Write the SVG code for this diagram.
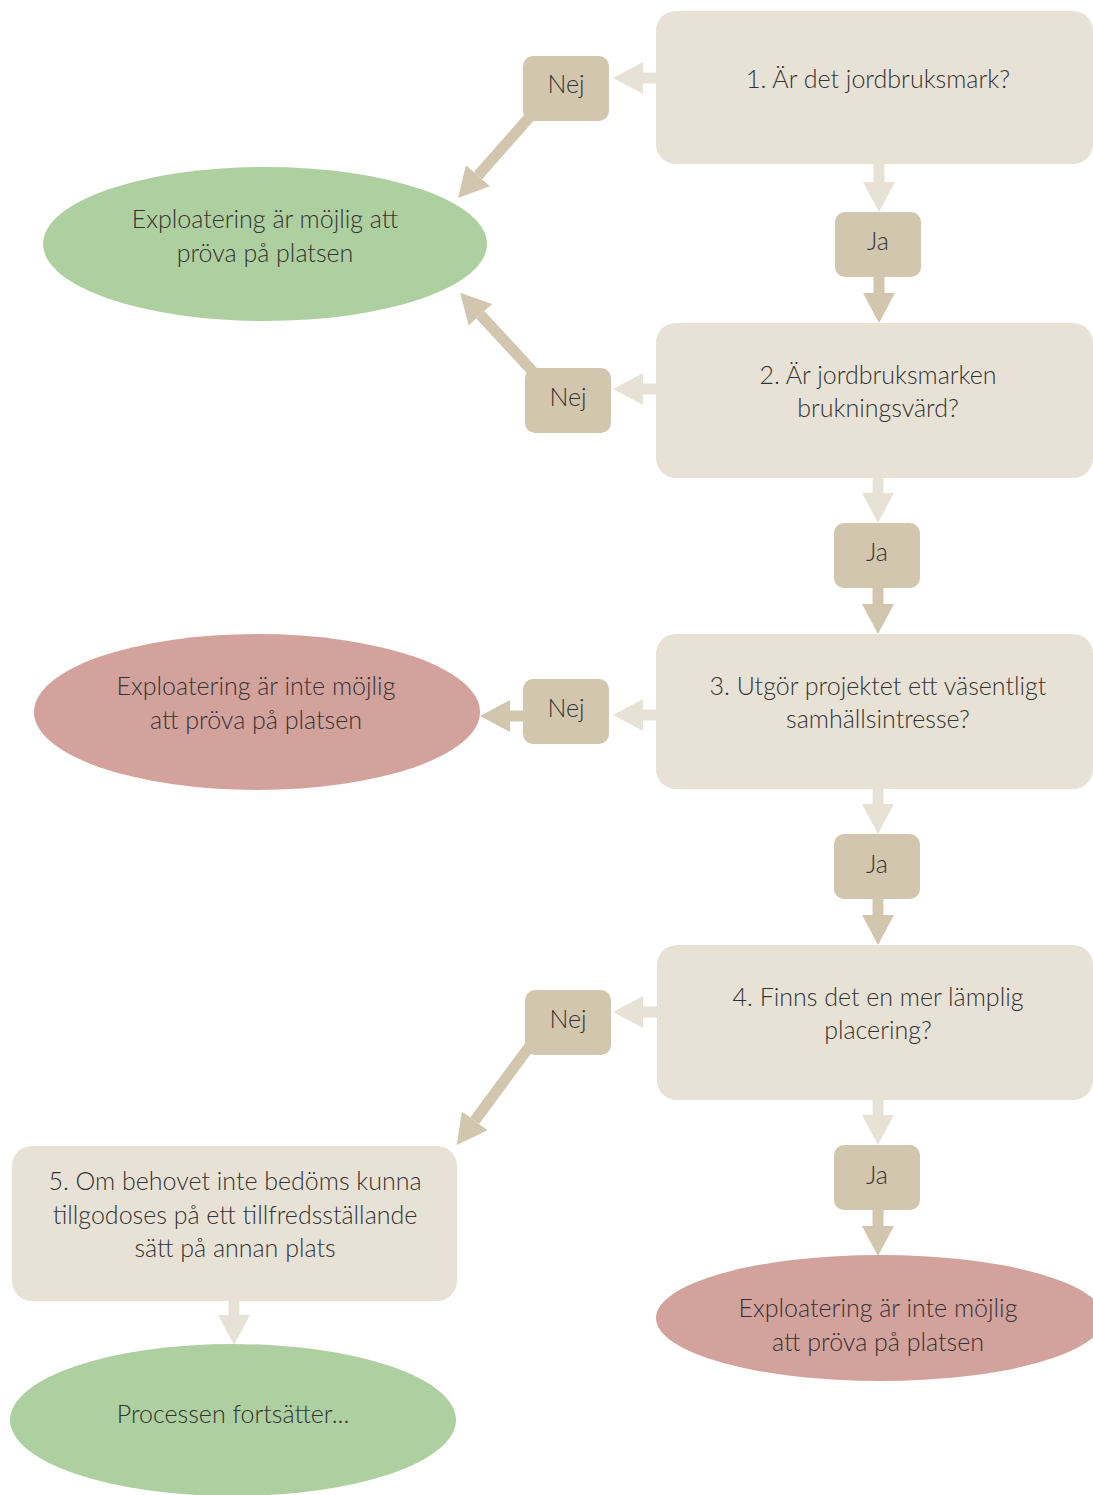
<svg xmlns="http://www.w3.org/2000/svg" width="1093" height="1495" viewBox="0 0 1093 1495">
<style>
.q{fill:#e8e2d6}
.a{fill:#d3c6ae}
.g{fill:#aecf9f}
.r{fill:#d4a29d}
text{font-family:Lato,"Open Sans","Liberation Sans",sans-serif;font-weight:300;font-size:25px;fill:#333333;text-anchor:middle}
.lc{stroke:#e8e2d6;stroke-width:11;fill:none}
.dc{stroke:#d3c6ae;stroke-width:11;fill:none}
</style>
<defs>
<marker id="hl" viewBox="0 -16 30 32" refX="0" refY="0" markerWidth="30" markerHeight="32" markerUnits="userSpaceOnUse" orient="auto"><path d="M0,-16 L30,0 L0,16 z" fill="#e8e2d6"/></marker>
<marker id="hd" viewBox="0 -16 30 32" refX="0" refY="0" markerWidth="30" markerHeight="32" markerUnits="userSpaceOnUse" orient="auto"><path d="M0,-16 L30,0 L0,16 z" fill="#d3c6ae"/></marker>
</defs>
<g id="connectors">
<line class="lc" x1="879" y1="160" x2="879" y2="182" marker-end="url(#hl)"/>
<line class="dc" x1="879" y1="275" x2="879" y2="293" marker-end="url(#hd)"/>
<line class="lc" x1="878" y1="474" x2="878" y2="493" marker-end="url(#hl)"/>
<line class="dc" x1="878" y1="586" x2="878" y2="604" marker-end="url(#hd)"/>
<line class="lc" x1="878" y1="785" x2="878" y2="804" marker-end="url(#hl)"/>
<line class="dc" x1="878" y1="897" x2="878" y2="915" marker-end="url(#hd)"/>
<line class="lc" x1="878" y1="1096" x2="878" y2="1115" marker-end="url(#hl)"/>
<line class="dc" x1="878" y1="1208" x2="878" y2="1226" marker-end="url(#hd)"/>
<line class="lc" x1="660" y1="78" x2="643" y2="78" marker-end="url(#hl)"/>
<line class="lc" x1="660" y1="389" x2="643" y2="389" marker-end="url(#hl)"/>
<line class="lc" x1="660" y1="715" x2="643" y2="715" marker-end="url(#hl)"/>
<line class="lc" x1="660" y1="1012" x2="643" y2="1012" marker-end="url(#hl)"/>
<line class="dc" x1="526" y1="716" x2="510" y2="716" marker-end="url(#hd)"/>
<line class="lc" x1="234" y1="1297" x2="234" y2="1315" marker-end="url(#hl)"/>
<line class="dc" x1="534" y1="112" x2="477.9" y2="175.6" marker-end="url(#hd)"/>
<line class="dc" x1="536" y1="375" x2="480.5" y2="314.9" marker-end="url(#hd)"/>
<line class="dc" x1="532" y1="1043" x2="474.7" y2="1120.8" marker-end="url(#hd)"/>
</g>
<g id="q1"><rect class="q" x="656" y="11" width="437" height="153" rx="20"/><text x="878" y="88">1. Är det jordbruksmark?</text></g>
<g id="q2"><rect class="q" x="656" y="323" width="437" height="155" rx="20"/><text x="878" y="384">2. Är jordbruksmarken</text><text x="878" y="417">brukningsvärd?</text></g>
<g id="q3"><rect class="q" x="656" y="634" width="437" height="155" rx="20"/><text x="878" y="695">3. Utgör projektet ett väsentligt</text><text x="878" y="728">samhällsintresse?</text></g>
<g id="q4"><rect class="q" x="657" y="945" width="436" height="155" rx="20"/><text x="878" y="1006">4. Finns det en mer lämplig</text><text x="878" y="1039">placering?</text></g>
<g id="q5"><rect class="q" x="12" y="1146" width="445" height="155" rx="20"/><text x="235" y="1190">5. Om behovet inte bedöms kunna</text><text x="235" y="1224">tillgodoses på ett tillfredsställande</text><text x="235" y="1257">sätt på annan plats</text></g>
<g id="ja1"><rect class="a" x="835" y="212" width="86" height="65" rx="10"/><text x="878" y="250">Ja</text></g>
<g id="ja2"><rect class="a" x="834" y="523" width="86" height="65" rx="10"/><text x="877" y="561">Ja</text></g>
<g id="ja3"><rect class="a" x="834" y="834" width="86" height="65" rx="10"/><text x="877" y="873">Ja</text></g>
<g id="ja4"><rect class="a" x="834" y="1145" width="86" height="65" rx="10"/><text x="877" y="1184">Ja</text></g>
<g id="nej1"><rect class="a" x="523" y="56" width="86" height="65" rx="10"/><text x="566" y="93">Nej</text></g>
<g id="nej2"><rect class="a" x="525" y="368" width="86" height="65" rx="10"/><text x="568" y="406">Nej</text></g>
<g id="nej3"><rect class="a" x="523" y="679" width="86" height="65" rx="10"/><text x="566" y="717">Nej</text></g>
<g id="nej4"><rect class="a" x="525" y="990" width="86" height="65" rx="10"/><text x="568" y="1028">Nej</text></g>
<g id="e1"><ellipse class="g" cx="265" cy="244" rx="222" ry="77"/><text x="265" y="228">Exploatering är möjlig att</text><text x="265" y="262">pröva på platsen</text></g>
<g id="e2"><ellipse class="r" cx="257" cy="712" rx="223" ry="78"/><text x="256" y="695">Exploatering är inte möjlig</text><text x="256" y="729">att pröva på platsen</text></g>
<g id="e3"><ellipse class="r" cx="880" cy="1318" rx="224" ry="63"/><text x="878" y="1317">Exploatering är inte möjlig</text><text x="878" y="1351">att pröva på platsen</text></g>
<g id="e4"><ellipse class="g" cx="233" cy="1420" rx="223" ry="76"/><text x="233" y="1423">Processen fortsätter...</text></g>
</svg>
